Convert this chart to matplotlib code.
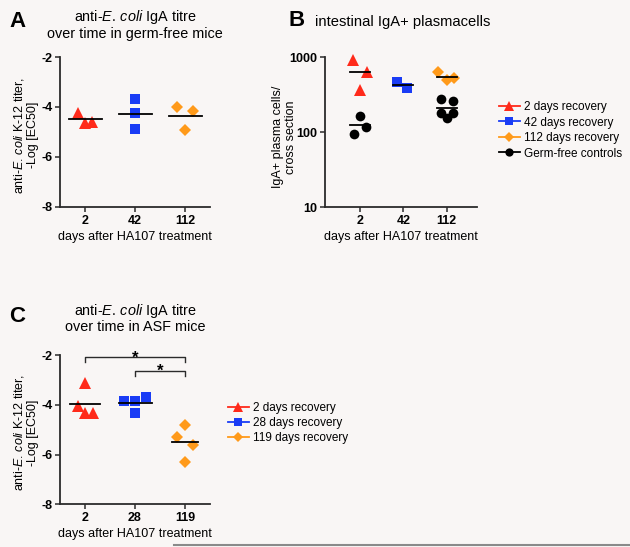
import numpy as np
import matplotlib
matplotlib.use("Agg")
import matplotlib.pyplot as plt
from matplotlib.lines import Line2D

plt.rcParams['font.family'] = ['Liberation Sans', 'DejaVu Sans']
plt.rcParams['mathtext.fontset'] = 'custom'
plt.rcParams['mathtext.it'] = 'Liberation Sans:italic'
plt.rcParams['mathtext.rm'] = 'Liberation Sans'
plt.rcParams['axes.unicode_minus'] = False

BG = '#f9f6f5'
RED = '#ff2a1a'
BLUE = '#1a3cf5'
ORANGE = '#ff9a1a'
BLACK = '#000000'
SPINE = '#2b2b2b'

# ---------------- data ----------------
# Panel A: germ-free mice, anti-E. coli titer (-Log EC50)
a_days = ['2', '42', '112']
a_2 = [-4.23, -4.65, -4.59]
a_42 = [-3.69, -4.24, -4.89]
a_112 = [-4.01, -4.16, -4.91]
a_jit = [[-0.15, -0.01, 0.13], [0.0, 0.0, 0.0], [-0.17, 0.15, -0.01]]

# Panel B: IgA+ plasma cells / cross section
b_days = ['2', '42', '112']
b_2 = [920, 631, 366]
b_42 = [464, 394]
b_112 = [631, 497, 535]
b_gf_2 = [165, 117, 94]
b_gf_112 = [278, 263, 182, 157, 179]
b_jit_2 = [-0.16, 0.16, 0.0]
b_jit_42 = [-0.14, 0.08]
b_jit_112 = [-0.2, 0.0, 0.17]
b_jit_gf2 = [0.0, 0.14, -0.13]
b_jit_gf112 = [-0.12, 0.14, -0.13, 0.0, 0.14]

# Panel C: ASF mice
c_days = ['2', '28', '119']
c_2 = [-3.14, -4.04, -4.34, -4.34]
c_28 = [-3.84, -3.84, -3.70, -4.34]
c_119 = [-4.81, -5.28, -5.61, -6.28]
c_jit = [[0.0, -0.14, 0.0, 0.15], [-0.22, 0.0, 0.22, 0.0], [0.0, -0.16, 0.15, 0.0]]

W, H = 630, 547
fig = plt.figure(figsize=(W / 100, H / 100), dpi=100, facecolor=BG)

FS = 9.0
LFS = 8.5


def px_axes(l, t, r, b):
    return fig.add_axes([l / W, 1 - b / H, (r - l) / W, (b - t) / H])


def style(ax):
    ax.set_facecolor(BG)
    for s in ['top', 'right']:
        ax.spines[s].set_visible(False)
    for s in ['left', 'bottom']:
        ax.spines[s].set_color(SPINE)
        ax.spines[s].set_linewidth(1.3)
    ax.tick_params(axis='both', direction='out', length=3.5, width=1.1,
                   color=SPINE, labelsize=FS, pad=2)
    for lab in ax.get_xticklabels() + ax.get_yticklabels():
        lab.set_fontweight('bold')


def group(ax, xc, vals, jit, color, marker, ms, half):
    xs = [xc + j for j in jit[:len(vals)]]
    ax.plot(xs, vals, linestyle='none', marker=marker, color=color,
            markersize=ms, markeredgewidth=0, clip_on=False, zorder=3)
    m = np.mean(vals)
    ax.plot([xc - half, xc + half], [m, m], color='black', lw=1.3, zorder=4)


MK = {'tri': ('^', 8.0), 'sq': ('s', 6.8), 'dia': ('D', 6.2), 'dot': ('o', 7.0)}

ECOLI = '$\\it{E.\\,coli}$'
ylab_titer = 'anti-' + ECOLI + ' K-12 titer,\n-Log [EC50]'

# ---------------- Panel A ----------------
axA = px_axes(60, 57, 210, 207)
group(axA, 0, a_2, a_jit[0], RED, *MK['tri'], 0.33)
group(axA, 1, a_42, a_jit[1], BLUE, *MK['sq'], 0.33)
group(axA, 2, a_112, a_jit[2], ORANGE, *MK['dia'], 0.33)
axA.set_xlim(-0.5, 2.5)
axA.set_ylim(-8, -2)
axA.set_yticks([-8, -6, -4, -2])
axA.set_xticks(range(3))
axA.set_xticklabels(a_days)
axA.set_xlabel('days after HA107 treatment', fontsize=FS, labelpad=3)
axA.set_ylabel(ylab_titer, fontsize=FS, linespacing=1.1)
axA.yaxis.set_label_coords(-21 / 150, 0.48)
axA.set_title('anti-' + ECOLI + ' IgA titre\nover time in germ-free mice',
              fontsize=10.4, pad=14, linespacing=1.02)
style(axA)
fig.text(9 / W, 1 - 27 / H, 'A', fontsize=16, fontweight='bold')

# ---------------- Panel B ----------------
axB = px_axes(325, 57.3, 477, 207.3)
axB.set_yscale('log')
group(axB, 0, b_2, b_jit_2, RED, *MK['tri'], 0.23)
group(axB, 0, b_gf_2, b_jit_gf2, BLACK, *MK['dot'], 0.23)
group(axB, 1, b_42, b_jit_42, BLUE, *MK['sq'], 0.23)
group(axB, 2, b_112, b_jit_112, ORANGE, *MK['dia'], 0.23)
group(axB, 2, b_gf_112, b_jit_gf112, BLACK, *MK['dot'], 0.23)
axB.set_xlim(-0.81, 2.7)
axB.set_ylim(10, 1000)
axB.set_yticks([10, 100, 1000])
axB.set_yticklabels(['10', '100', '1000'])
axB.yaxis.set_minor_locator(matplotlib.ticker.NullLocator())
axB.set_xticks(range(3))
axB.set_xticklabels(b_days)
axB.set_xlabel('days after HA107 treatment', fontsize=FS, labelpad=3)
axB.set_ylabel('IgA+ plasma cells/\ncross section', fontsize=FS,
               linespacing=1.1)
axB.yaxis.set_label_coords(-28 / 152, 0.47)
style(axB)
fig.text(289 / W, 1 - 26 / H, 'B', fontsize=16, fontweight='bold')
fig.text(315 / W, 1 - 22 / H, 'intestinal IgA+ plasmacells', fontsize=10.6,
         va='center')

hB = [Line2D([], [], color=c, marker=m, markersize=s * 0.85, lw=1.3,
             markeredgewidth=0)
      for c, (m, s) in [(RED, MK['tri']), (BLUE, MK['sq']),
                        (ORANGE, MK['dia']), (BLACK, MK['dot'])]]
fig.legend(hB, ['2 days recovery', '42 days recovery', '112 days recovery',
                'Germ-free controls'],
           loc='upper left', bbox_to_anchor=(499 / W, 1 - 101 / H),
           frameon=False, fontsize=LFS, handlelength=1.75, handletextpad=0.35,
           labelspacing=0.3, borderpad=0, borderaxespad=0)

# ---------------- Panel C ----------------
axC = px_axes(60, 355, 210, 504.3)
group(axC, 0, c_2, c_jit[0], RED, *MK['tri'], 0.3)
group(axC, 1, c_28, c_jit[1], BLUE, *MK['sq'], 0.33)
group(axC, 2, c_119, c_jit[2], ORANGE, *MK['dia'], 0.26)
axC.set_xlim(-0.5, 2.5)
axC.set_ylim(-8, -2)
axC.set_yticks([-8, -6, -4, -2])
axC.set_xticks(range(3))
axC.set_xticklabels(c_days)
axC.set_xlabel('days after HA107 treatment', fontsize=FS, labelpad=3)
axC.set_ylabel(ylab_titer, fontsize=FS, linespacing=1.1)
axC.yaxis.set_label_coords(-21 / 150, 0.48)
axC.set_title('anti-' + ECOLI + ' IgA titre\nover time in ASF mice',
              fontsize=10.4, pad=17, linespacing=1.02)
style(axC)
fig.text(9 / W, 1 - 322 / H, 'C', fontsize=16, fontweight='bold')

# significance brackets
for x0, x1, yb, yt in [(0, 2, -2.1, -2.27), (1, 2, -2.63, -2.83)]:
    axC.plot([x0, x0, x1, x1], [yt, yb, yb, yt], color=SPINE, lw=1.0,
             clip_on=False)
    axC.text((x0 + x1) / 2, yb - 0.22, '*', ha='center', va='baseline',
             fontsize=12, fontweight='bold')

hC = [Line2D([], [], color=c, marker=m, markersize=s * 0.85, lw=1.3,
             markeredgewidth=0)
      for c, (m, s) in [(RED, MK['tri']), (BLUE, MK['sq']),
                        (ORANGE, MK['dia'])]]
fig.legend(hC, ['2 days recovery', '28 days recovery', '119 days recovery'],
           loc='upper left', bbox_to_anchor=(228 / W, 1 - 402 / H),
           frameon=False, fontsize=LFS, handlelength=1.75, handletextpad=0.35,
           labelspacing=0.27, borderpad=0, borderaxespad=0)

fig.add_artist(Line2D([174 / W, 1.0], [1 - 545 / H] * 2, color='#8a8a8a',
                      lw=1.5))

fig.savefig('out.png', dpi=100, facecolor=BG)
